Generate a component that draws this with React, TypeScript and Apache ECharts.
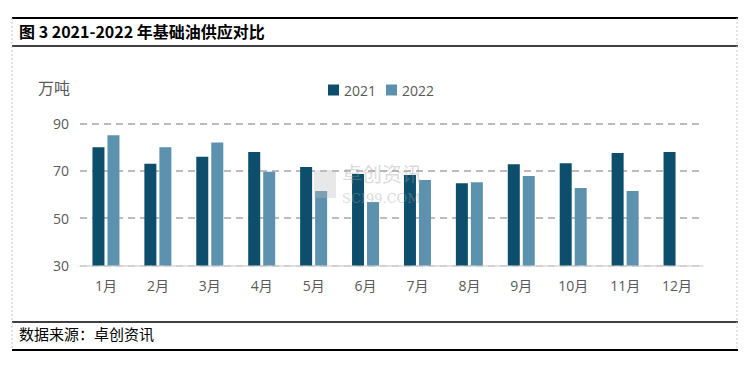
import React, { useEffect, useRef } from "react";
import * as echarts from "echarts";

const months = ["1月", "2月", "3月", "4月", "5月", "6月", "7月", "8月", "9月", "10月", "11月", "12月"];
const s2021 = [80, 73, 76, 78, 71.6, 68.7, 68.2, 64.8, 72.8, 73.2, 77.5, 78];
const s2022: (number | null)[] = [85, 80, 82, 69.6, 61.5, 56.8, 66.1, 65.2, 67.8, 62.7, 61.5, null];
const yTicks = { min: 30, max: 90, interval: 20 };

export default function App() {
  const ref = useRef<HTMLDivElement>(null);
  useEffect(() => {
    if (!ref.current) return;
    const chart = echarts.init(ref.current, null, { renderer: "svg" });
    const font = "'Open Sans', 'Noto Sans CJK SC', sans-serif";
    chart.setOption({
      animation: false,
      backgroundColor: "#ffffff",
      grid: { left: 80, right: 47, top: 123.5, bottom: 100.5 },
      legend: {
        left: 323,
        top: 78,
        itemWidth: 11,
        itemHeight: 11,
        itemGap: 10,
        icon: "rect",
        textStyle: { color: "#595959", fontSize: 14, fontFamily: font },
        data: ["2021", "2022"],
      },
      xAxis: {
        type: "category",
        data: months,
        axisLine: { lineStyle: { color: "#d9d9d9", width: 1.5 } },
        axisTick: { show: false },
        axisLabel: { color: "#595959", fontSize: 14, margin: 13, fontFamily: font },
      },
      yAxis: {
        type: "value",
        min: yTicks.min,
        max: yTicks.max,
        interval: yTicks.interval,
        axisLine: { show: false },
        axisTick: { show: false },
        axisLabel: { color: "#595959", fontSize: 14, margin: 11, fontFamily: font },
        splitLine: {
          lineStyle: { color: "#a6a6a6", type: [7, 5], width: 1.5 },
        },
      },
      series: [
        {
          name: "2021",
          type: "bar",
          data: s2021,
          barWidth: 12,
          barGap: "25%",
          itemStyle: { color: "#0c4e6b" },
        },
        {
          name: "2022",
          type: "bar",
          data: s2022,
          barWidth: 12,
          itemStyle: { color: "#5c92ad" },
        },
      ],
      graphic: [
        { type: "line", shape: { x1: 12, y1: 18, x2: 738, y2: 18 }, style: { stroke: "#000", lineWidth: 2 } },
        { type: "line", shape: { x1: 12, y1: 46, x2: 738, y2: 46 }, style: { stroke: "#000", lineWidth: 1.5 } },
        { type: "line", shape: { x1: 12, y1: 322, x2: 738, y2: 322 }, style: { stroke: "#000", lineWidth: 1.5 } },
        { type: "line", shape: { x1: 12, y1: 350, x2: 738, y2: 350 }, style: { stroke: "#000", lineWidth: 2 } },
        { type: "line", shape: { x1: 12, y1: 18, x2: 12, y2: 350 }, style: { stroke: "#c8c8c8", lineWidth: 1, lineDash: [2, 2] } },
        { type: "line", shape: { x1: 737, y1: 18, x2: 737, y2: 350 }, style: { stroke: "#c8c8c8", lineWidth: 1, lineDash: [2, 2] } },
        {
          type: "text",
          left: 19,
          top: 23,
          style: { text: "图 3 2021-2022 年基础油供应对比", fill: "#000", font: "bold 16px 'Noto Sans CJK SC', serif" },
        },
        {
          type: "text",
          left: 19,
          top: 326,
          style: { text: "数据来源：卓创资讯", fill: "#000", font: "15px 'Noto Sans CJK SC', serif" },
        },
        {
          type: "text",
          left: 38,
          top: 79,
          style: { text: "万吨", fill: "#595959", font: "16px 'Noto Sans CJK SC', sans-serif" },
        },
        {
          type: "text",
          left: 342,
          top: 163,
          z: 10,
          style: { text: "卓创资讯", fill: "rgba(160,160,160,0.4)", font: "20px 'Noto Sans CJK SC', sans-serif" },
        },
        {
          type: "text",
          left: 342,
          top: 192,
          z: 10,
          style: { text: "SCI99.COM", fill: "rgba(160,160,160,0.4)", font: "13px 'DejaVu Serif', serif" },
        },
        { type: "rect", shape: { x: 314, y: 170, width: 22, height: 28 }, z: 10, style: { fill: "rgba(190,190,190,0.35)" } },
      ],
    });
    return () => chart.dispose();
  }, []);
  return (
    <div
      ref={ref}
      style={{ position: "absolute", left: 0, top: 0, width: 750, height: 366 }}
    />
  );
}
